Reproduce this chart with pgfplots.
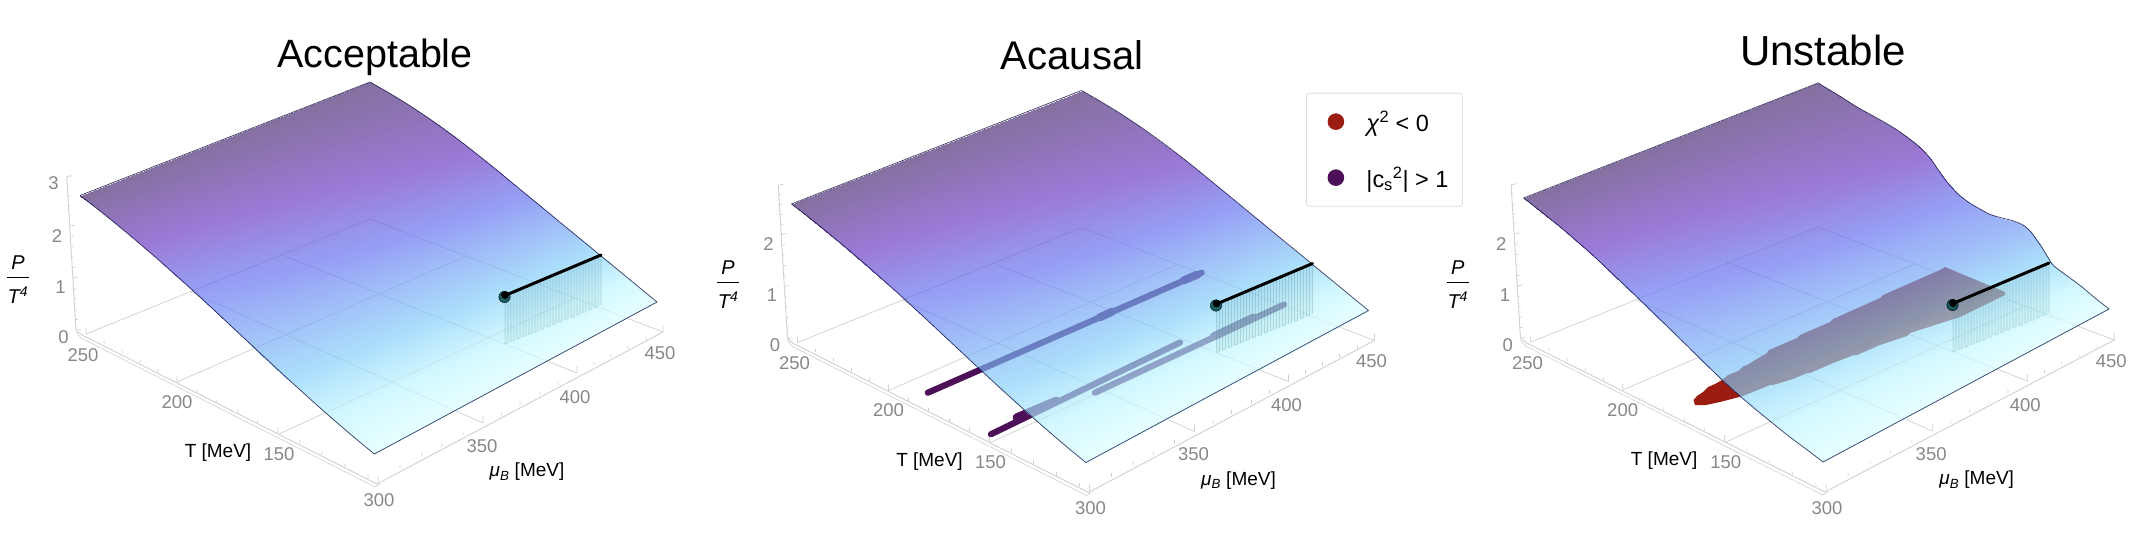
\documentclass[border=0pt]{standalone}
\usepackage{fontspec}
\setmainfont{Liberation Sans}
\usepackage{pgfplots}
\usepackage{pgfplotstable}
\pgfplotsset{compat=1.18}
\definecolor{axgray}{RGB}{208,208,208}
\definecolor{labgray}{RGB}{135,135,135}
\definecolor{acaus}{RGB}{77,16,88}
\definecolor{unst}{RGB}{155,28,16}
\pgfplotsset{
 colormap={eos}{rgb255(0)=(73,42,113) rgb255(25)=(106,54,191) rgb255(50)=(98,113,240) rgb255(75)=(131,206,249) rgb255(88)=(188,244,255) rgb255(100)=(218,255,255)},
 panel/.style={hide axis, scale only axis, width=760pt, height=542pt,
  xmin=0,xmax=760,ymin=0,ymax=542,zmin=0,zmax=1,y dir=reverse,view={0}{90},clip=false,
  colormap name=eos, point meta min=0, point meta max=1, unbounded coords=jump},
 sfc/.style={surf, shader=interp, opacity=0.67, forget plot},
 edge/.style={forget plot, no marks, smooth, line width=0.8pt, color=black!78!blue, opacity=0.7},
 ax/.style={forget plot, no marks, line width=0.9pt, color=axgray, line join=round},
}
\pgfplotstableread{
x y c
80 195.5 0
370 82 0
96.7 208.4 0.069
389.2 93 0.039
112.9 221.4 0.139
407.2 104 0.078
128.5 234.3 0.208
424 115 0.117
143.8 247.2 0.276
439.8 126 0.156
158.8 260.1 0.342
454.8 137 0.195
173.4 273.1 0.408
469.2 148 0.234
187.7 285.9 0.474
483.1 159 0.288
201.9 298.9 0.522
496.6 170 0.35
215.9 311.8 0.559
510 181 0.413
229.8 324.8 0.596
523.4 192 0.475
243.6 337.7 0.632
536.7 203 0.53
257.4 350.6 0.669
550.1 214 0.58
271.3 363.5 0.706
563.4 225 0.63
285.3 376.5 0.743
576.8 236 0.68
299.5 389.4 0.784
590.2 247 0.73
313.8 402.3 0.828
603.5 258 0.782
328.4 415.2 0.871
616.9 269 0.837
343.4 428.2 0.914
630.3 280 0.891
358.6 441.1 0.957
643.6 291 0.946
374.3 454 1
657 302 1
}\surfA
\pgfplotstableread{
x y c
75.6 190 0
370 75 0
93.4 204 0.074
390 87 0.041
111 218 0.147
409 99 0.083
125.4 230.3 0.213
428 109.5 0.12
139.5 242.5 0.275
446 120 0.155
151 253 0.33
459 129 0.187
163.3 264.7 0.39
471.5 139 0.221
177 277.6 0.45
482 150 0.265
191 291 0.52
490 161.5 0.329
206 305.6 0.55
499 174 0.398
220.5 319.6 0.589
510 186 0.464
230.8 329.7 0.617
521 194.5 0.508
238.6 337.3 0.638
532 201 0.536
244.4 343 0.654
541 206 0.556
248.6 347.1 0.665
552 209.5 0.575
252 350.6 0.675
564 212.5 0.588
257.4 355.8 0.69
575 217 0.608
265.9 364 0.712
583 224 0.639
274.3 372.2 0.735
588 231 0.67
283.4 380.3 0.758
593 238 0.70
291.8 388 0.78
597 244.6 0.73
302 396.6 0.80
601 251 0.76
311 404.2 0.83
605.5 257.7 0.79
326.7 416.9 0.876
620 268.5 0.84
341 428.4 0.916
634 279 0.894
358 441 0.958
647 290 0.947
375 454 1
661 301 1
}\surfC
\newcommand{\EdgesA}{%
 \addplot[edge,sharp plot] coordinates {(80,195.5)(370,82)};
 \addplot[edge] coordinates {(370,82)(389.2,93)(407.2,104)(424,115)(439.8,126)(454.8,137)(469.2,148)(483.1,159)(496.6,170)(510,181)(523.4,192)(536.7,203)(550.1,214)(563.4,225)(576.8,236)(590.2,247)(603.5,258)(616.9,269)(630.3,280)(643.6,291)(657,302)};
 \addplot[edge,sharp plot] coordinates {(657,302)(374.3,454)};
 \addplot[edge] coordinates {(80,195.5)(96.7,208.4)(112.9,221.4)(128.5,234.3)(143.8,247.2)(158.8,260.1)(173.4,273.1)(187.7,285.9)(201.9,298.9)(215.9,311.8)(229.8,324.8)(243.6,337.7)(257.4,350.6)(271.3,363.5)(285.3,376.5)(299.5,389.4)(313.8,402.3)(328.4,415.2)(343.4,428.2)(358.6,441.1)(374.3,454)};
}
\newcommand{\Floor}{%
 % grid
 \addplot[ax,line width=0.7pt] coordinates {(86,334)(370,219) (nan,nan) (177,382)(466,256) (nan,nan) (279,434)(575,298) (nan,nan)
   (483,423)(191,292) (nan,nan) (577,373)(280,254) (nan,nan) (663,332)(370,219)};
 % axes
 \addplot[ax] coordinates {(66.7,176.7)(76,330)(82,335)(377,484)(663,332)};
 \addplot[ax,line width=0.6pt] coordinates {(76,332)(81,338)(375,487)(380,484)};
 % major ticks
 \addplot[ax,line width=0.7pt] coordinates {(177,382)(177,376) (nan,nan) (278,433)(278,427) (nan,nan) (86,334)(86,328) (nan,nan)
   (483,423)(483,416) (nan,nan) (577,373)(577,366) (nan,nan) (663,332)(663,325) (nan,nan) (378,483)(378,476) (nan,nan)
   (76,330)(81,329.5) (nan,nan) (72.8,278)(78,277) (nan,nan) (69.6,226)(75,225) (nan,nan) (66.7,176.7)(72,175.7)};
 % minor ticks
 \addplot[ax,line width=0.6pt] coordinates {(104,343.5)(104,340) (nan,nan) (122,353)(122,349.5) (nan,nan) (140,363)(140,359.5) (nan,nan) (158,372.5)(158,369) (nan,nan)
   (197,392.5)(197,389) (nan,nan) (217,403)(217,399.5) (nan,nan) (238,413)(238,409.5) (nan,nan) (258,423)(258,419.5) (nan,nan)
   (300,443.5)(300,440) (nan,nan) (322,455)(322,451.5) (nan,nan) (345,467)(345,463.5) (nan,nan) (368,478)(368,474.5) (nan,nan)
   (400,468)(400,464.5) (nan,nan) (421.7,456.7)(421.7,453) (nan,nan) (441.7,446.7)(441.7,443) (nan,nan) (463,435)(463,431.5) (nan,nan)
   (501.7,415)(501.7,411.5) (nan,nan) (520,405)(520,401.5) (nan,nan) (540,395)(540,391.5) (nan,nan) (558,385)(558,381.5) (nan,nan)
   (594,365)(594,361.5) (nan,nan) (611,357)(611,353.5) (nan,nan) (628,349)(628,345.5) (nan,nan) (646,340)(646,336.5) (nan,nan)
   (75,319.6)(78,319.4) (nan,nan) (74.4,309.2)(77.4,309) (nan,nan) (73.7,298.8)(76.7,298.6) (nan,nan) (73.2,288.4)(76.2,288.2) (nan,nan)
   (72.2,267.6)(75.2,267.4) (nan,nan) (71.6,257.2)(74.6,257) (nan,nan) (70.9,246.8)(73.9,246.6) (nan,nan) (70.3,236.4)(73.3,236.2) (nan,nan)
   (69,216)(72,215.8) (nan,nan) (68.4,206)(71.4,205.8) (nan,nan) (67.8,196)(70.8,195.8) (nan,nan) (67.2,186)(70.2,185.8)};
 \begin{scope}[every node/.style={text=labgray,font=\fontsize{18.5}{20}\selectfont,inner sep=0pt}]
 \node at (axis cs:83,355,0) {250};
 \node at (axis cs:177,402,0) {200};
 \node at (axis cs:279,454,0) {150};
 \node at (axis cs:379,500,0) {300};
 \node at (axis cs:482,446,0) {350};
 \node at (axis cs:575,397,0) {400};
 \node at (axis cs:660,353,0) {450};
 \node at (axis cs:63.5,337,0) {0};
 \node at (axis cs:60.6,287,0) {1};
 \node at (axis cs:57,236,0) {2};
 \end{scope}
 \node[inner sep=0pt,font=\fontsize{19}{21}\selectfont] at (axis cs:218,453,0) {T [MeV]};
 \node[inner sep=0pt,font=\fontsize{19}{21}\selectfont] at (axis cs:527,472,0) {\textit{μ}\textsubscript{\textit{B}} [MeV]};
}
\newcommand{\Frac}[2]{%
 \node[inner sep=0pt,font=\fontsize{20}{22}\selectfont\itshape] at (axis cs:#1,#2-14.5,0) {P};
 \node[inner sep=0pt,font=\fontsize{20}{22}\selectfont\itshape] at (axis cs:#1,#2+18,0) {T\textsuperscript{4}};
 \addplot[forget plot,no marks,black,line width=0.9pt] coordinates {({#1-11},#2) ({#1+11},#2)};
}
\newcommand{\Line}{%
 \addplot[forget plot,no marks,draw=none,fill=teal!60!gray,fill opacity=0.06] coordinates {(505,296)(601,255)(601,305)(505,344)} --cycle;
 \addplot[forget plot,no marks,color=teal!50!gray,line width=0.7pt,opacity=0.24,line join=bevel] coordinates {
 (505,296)(505,344)(508,342.8)(508,294.7)(511,293.4)(511,341.6)(514,340.4)(514,292.2)(517,290.9)(517,339.2)
 (520,338)(520,289.6)(523,288.3)(523,336.8)(526,335.6)(526,287)(529,285.8)(529,334.4)(532,333.2)(532,284.5)
 (535,283.2)(535,332)(538,330.8)(538,281.9)(541,280.6)(541,329.6)(544,328.4)(544,279.4)(547,278.1)(547,327.2)
 (550,326)(550,276.8)(553,275.5)(553,324.8)(556,323.6)(556,274.2)(559,273)(559,322.4)(562,321.2)(562,271.7)
 (565,270.4)(565,320)(568,318.8)(568,269.1)(571,267.8)(571,317.6)(574,316.4)(574,266.6)(577,265.3)(577,315.2)
 (580,314)(580,264)(583,262.7)(583,312.8)(586,311.6)(586,261.4)(589,260.2)(589,310.4)(592,309.2)(592,258.9)
 (595,257.6)(595,308)(598,306.8)(598,256.3)(601,255)(601,305)};
 \addplot[forget plot,only marks,mark=*,mark size=5.7pt,mark options={draw=none,fill=teal!60!black,fill opacity=0.85}] coordinates {(504.5,297)};
 \addplot[forget plot,no marks,black,line width=3pt,line cap=round] coordinates {(505,295.5)(601,255)};
 \addplot[forget plot,only marks,mark=*,mark size=3.6pt,mark options={draw=none,fill=black}] coordinates {(505,295)};
}
\begin{document}
\begin{tikzpicture}[x=1pt,y=1pt]
\useasboundingbox (0,0) rectangle (2142,542);
%%% panel 1
\begin{axis}[panel]
 \Floor
 \node[inner sep=0pt,text=labgray,font=\fontsize{18.5}{20}\selectfont] at (axis cs:53.5,183,0) {3};
 \Frac{18}{277}
 \addplot3[sfc,mesh/rows=21,mesh/cols=2] table[x=x,y=y,z=c] {\surfA};
 \EdgesA
 \Line
 \node[anchor=base,inner sep=0pt,font=\fontsize{39.5}{42}\selectfont] at (axis cs:375,67.5,0) {Acceptable};
\end{axis}
%%% panel 2
\begin{scope}[shift={(711.5,-8.5)}]
\begin{axis}[panel,
  legend style={at={(axis description cs:0.7822,0.8446)},anchor=north west,draw=black!13,rounded corners=3pt,line width=0.8pt,
   font=\fontsize{23.5}{26}\selectfont,inner xsep=12pt,inner ysep=15.5pt,row sep=30pt,fill=white,
   /tikz/column 1/.style={column sep=20pt}},legend cell align=left]
 \Floor
 \Frac{16.6}{273.5}
 \addplot[forget plot,no marks,color=acaus,line width=6.2pt,line cap=round] coordinates {(216.3,384.2)(490.2,264.2)};
 \addplot[forget plot,no marks,color=acaus,line width=8pt,line cap=round] coordinates {(388,309)(401,303) (nan,nan) (472,272)(486,266)};
 \addplot[forget plot,no marks,color=acaus,line width=6.2pt,line cap=round] coordinates {(279.5,425.7)(468.5,334)};
 \addplot[forget plot,no marks,color=acaus,line width=6.2pt,line cap=round] coordinates {(383.5,384.2)(572.5,296)};
 \addplot[forget plot,no marks,color=acaus,line width=8pt,line cap=round] coordinates {(305,409)(345,392) (nan,nan) (502,328)(542,309)};
 \addplot3[sfc,mesh/rows=21,mesh/cols=2] table[x=x,y=y,z=c] {\surfA};
 \EdgesA
 \Line
 \node[anchor=base,inner sep=0pt,font=\fontsize{40}{42}\selectfont] at (axis cs:360.5,60.5,0) {Acausal};
 \addlegendimage{legend image code/.code={\path[draw=none,fill=none] (-8.5pt,0pt) -- (17.5pt,0pt); \fill[unst,draw=none] (9pt,0pt) circle (8.3pt);}}
 \addlegendentry{\textit{χ}\textsuperscript{2} < 0}
 \addlegendimage{legend image code/.code={\path[draw=none,fill=none] (-8.5pt,0pt) -- (17.5pt,0pt); \fill[acaus,draw=none] (9pt,0pt) circle (8.3pt);}}
 \addlegendentry{|c\textsubscript{s}\textsuperscript{2}| > 1}
\end{axis}
\end{scope}
%%% panel 3 floor
\begin{scope}[shift={(1443.6,-8)}]
\begin{axis}[panel,width=768.74pt]
 \Floor
 \Frac{14}{274}
 \node[anchor=base,inner sep=0pt,font=\fontsize{42}{44}\selectfont] at (axis cs:375,57.7,0) {Unstable};
\end{axis}
\end{scope}
%%% panel 3 surface
\begin{scope}[shift={(1448,-8)}]
\begin{axis}[panel]
 \addplot[forget plot,no marks,draw=none,fill=unst] coordinates {
  (247,397)(245.5,392)(249,388)(255,384)(260,379)(267,376)(274,372)(280,367)(290,363)(296,358)(299,357)(319,345)(321,342)(349,330)(352,327)(382,314)(385,311)(432,290)(435,287)(492,262)(497,259)
  (557,284)(557,287)(512,309)(462,325)(459,328)(432,337)(409,347)(406,347)(385,355)(362,365)(359,365)(345,371)(325,377)(322,377)(295,388)(272,394)(258,397)} --cycle;
 \addplot3[sfc,mesh/rows=27,mesh/cols=2] table[x=x,y=y,z=c] {\surfC};
 \addplot[edge,sharp plot] coordinates {(75.6,190)(370,75)};
 \addplot[edge] coordinates {(370,75)(390,87)(409,99)(428,109.5)(446,120)(459,129)(471.5,139)(482,150)(490,161.5)(499,174)(510,186)(521,194.5)(532,201)(541,206)(552,209.5)(564,212.5)(575,217)(583,224)(588,231)(593,238)(597,244.6)(601,251)(605.5,257.7)(620,268.5)(634,279)(647,290)(661,301)};
 \addplot[edge,sharp plot] coordinates {(661,301)(375,454)};
 \addplot[edge] coordinates {(75.6,190)(93.4,204)(111,218)(125.4,230.3)(139.5,242.5)(151,253)(163.3,264.7)(177,277.6)(191,291)(206,305.6)(220.5,319.6)(230.8,329.7)(238.6,337.3)(244.4,343)(248.6,347.1)(252,350.6)(257.4,355.8)(265.9,364)(274.3,372.2)(283.4,380.3)(291.8,388)(302,396.6)(311,404.2)(326.7,416.9)(341,428.4)(358,441)(375,454)};
 \Line
\end{axis}
\end{scope}
\end{tikzpicture}
\end{document}
